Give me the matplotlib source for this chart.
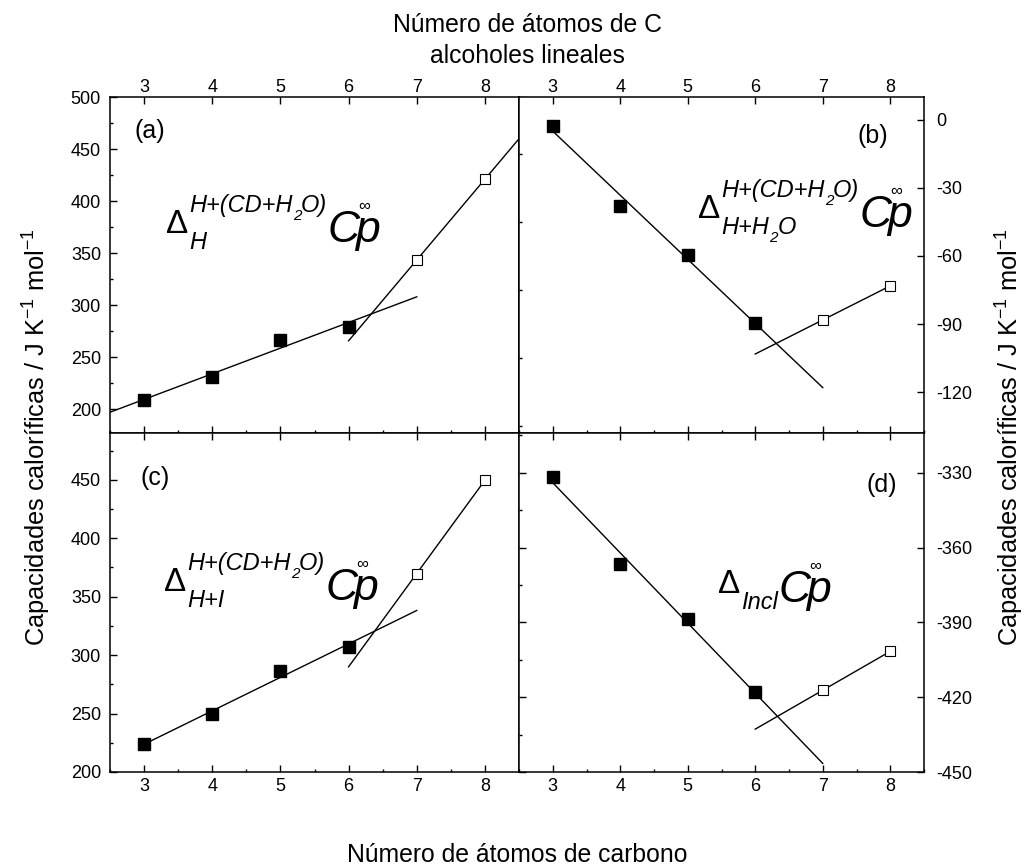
import numpy as np
import matplotlib
matplotlib.use("Agg")
import matplotlib.pyplot as plt
from matplotlib.ticker import MultipleLocator
from matplotlib.transforms import IdentityTransform

plt.rcParams["font.family"] = "Liberation Sans"
plt.rcParams["mathtext.fontset"] = "custom"
plt.rcParams["mathtext.rm"] = "Liberation Sans"
plt.rcParams["mathtext.it"] = "Liberation Sans:italic"
plt.rcParams["axes.unicode_minus"] = False
plt.rcParams["font.size"] = 13

# numero de carbonos del alcohol; los cuatro primeros (rellenos) y los dos ultimos (abiertos)
n_carbon = np.array([3, 4, 5, 6, 7, 8])
cp_a = np.array([208.7, 231.0, 266.3, 279.1, 343.3, 421.0])
cp_b = np.array([-2.6, -37.9, -59.6, -89.5, -88.2, -73.2])
cp_c = np.array([223.7, 249.7, 286.3, 306.9, 369.8, 449.6])
cp_d = np.array([-331.6, -366.5, -388.5, -418.1, -417.2, -401.6])
n_fill = 4

W, H = 1030, 868
fig = plt.figure(figsize=(W / 100, H / 100), dpi=100)

xl, xm, xr = 110 / W, 519 / W, 924 / W
yb, ym, yt = 1 - 772 / H, 1 - 433 / H, 1 - 97 / H
ax_a = fig.add_axes([xl, ym, xm - xl, yt - ym])
ax_b = fig.add_axes([xm, ym, xr - xm, yt - ym])
ax_c = fig.add_axes([xl, yb, xm - xl, ym - yb])
ax_d = fig.add_axes([xm, yb, xr - xm, ym - yb])


def panel(ax, y, fill_span, open_span):
    xf, yf = n_carbon[:n_fill], y[:n_fill]
    xo, yo = n_carbon[n_fill:], y[n_fill:]
    pf = np.polyfit(xf, yf, 1)
    po = np.polyfit(xo, yo, 1)
    xs = np.array(fill_span)
    ax.plot(xs, np.polyval(pf, xs), color="k", lw=1.0)
    xs = np.array(open_span)
    ax.plot(xs, np.polyval(po, xs), color="k", lw=1.0)
    ax.plot(xf, yf, "s", color="k", ms=8, zorder=3)
    ax.plot(xo, yo, "s", mfc="white", mec="k", mew=0.8, ms=7.5, zorder=3)
    ax.set_xlim(2.5, 8.5)
    ax.xaxis.set_major_locator(MultipleLocator(1))
    ax.xaxis.set_minor_locator(MultipleLocator(0.5))
    ax.tick_params(which="both", direction="in", width=1.0)
    ax.tick_params(which="major", length=5)
    ax.tick_params(which="minor", length=2.5)
    for s in ax.spines.values():
        s.set_linewidth(1.1)


panel(ax_a, cp_a, (2.5, 7), (6, 8.5))
panel(ax_b, cp_b, (3, 7), (6, 8))
panel(ax_c, cp_c, (3, 7), (6, 8))
panel(ax_d, cp_d, (3, 7), (6, 8))

ax_a.set_ylim(177, 500)
ax_a.yaxis.set_major_locator(MultipleLocator(50))
ax_a.yaxis.set_minor_locator(MultipleLocator(25))
ax_a.tick_params(axis="x", top=True, bottom=True, labeltop=True, labelbottom=False, pad=0.5)
ax_a.tick_params(axis="y", left=True, right=False, labelleft=True, pad=6.5)
sec = ax_a.secondary_yaxis("right")
sec.yaxis.set_major_locator(MultipleLocator(50))
sec.yaxis.set_minor_locator(MultipleLocator(25))
sec.tick_params(which="both", direction="out", width=1.0, labelright=False)
sec.tick_params(which="major", length=5)
sec.tick_params(which="minor", length=2.5)
sec.spines["right"].set_linewidth(1.1)

ax_b.set_ylim(-138, 10)
ax_b.yaxis.set_major_locator(MultipleLocator(30))
ax_b.yaxis.set_minor_locator(MultipleLocator(15))
ax_b.tick_params(axis="x", top=True, bottom=True, labeltop=True, labelbottom=False, pad=0.5)
ax_b.tick_params(axis="y", left=False, right=True, labelleft=False, labelright=True, pad=9)

ax_c.set_ylim(200, 490)
ax_c.yaxis.set_major_locator(MultipleLocator(50))
ax_c.yaxis.set_minor_locator(MultipleLocator(25))
ax_c.tick_params(axis="x", top=True, bottom=True, labeltop=False, labelbottom=True, pad=4.5)
ax_c.tick_params(axis="y", left=True, right=False, labelleft=True, pad=6.5)

ax_d.set_ylim(-450, -314)
ax_d.yaxis.set_major_locator(MultipleLocator(30))
ax_d.yaxis.set_minor_locator(MultipleLocator(15))
ax_d.tick_params(axis="x", top=True, bottom=True, labeltop=False, labelbottom=True, pad=4.5)
ax_d.tick_params(axis="y", left=True, right=True, labelleft=False, labelright=True, pad=9)


def ptext(x, y, s, **kw):
    return fig.text(x, H - y, s, transform=IdentityTransform(), **kw)


# titulos de los ejes
ptext(527, 32, "Número de átomos de C", ha="center", va="baseline", fontsize=17.8)
ptext(527, 63, "alcoholes lineales", ha="center", va="baseline", fontsize=17.8)
ptext(517, 862, "Número de átomos de carbono", ha="center", va="baseline", fontsize=17.8)
ylab = "Capacidades caloríficas / J K$^{-1}$ mol$^{-1}$"
ptext(37, 437, ylab, rotation=90, ha="center", va="center", fontsize=18.3)
ptext(1010, 437, ylab, rotation=90, ha="center", va="center", fontsize=18.3)

# etiquetas de panel
ptext(135, 138, "(a)", ha="left", va="baseline", fontsize=18)
ptext(888, 143, "(b)", ha="right", va="baseline", fontsize=18)
ptext(140, 485, "(c)", ha="left", va="baseline", fontsize=18)
ptext(897, 492, "(d)", ha="right", va="baseline", fontsize=18)

renderer = fig.canvas.get_renderer()


def run(x, y, pieces):
    for s, size, dy in pieces:
        t = ptext(x, y + dy, s, fontsize=size, style="italic", ha="left", va="baseline")
        x = t.get_window_extent(renderer).x1
    return x


def formula(x, base, sup, sub):
    d = ptext(x, base, "Δ", fontsize=24, ha="left", va="baseline")
    xs = d.get_window_extent(renderer).x1 + 1
    x_end = xs
    if sup:
        x_end = max(x_end, run(xs, base - 21, sup))
    if sub:
        x_end = max(x_end, run(xs, base + 16, sub))
    c = ptext(x_end, base + 9, "C", fontsize=32, style="italic", ha="left", va="baseline")
    xp = c.get_window_extent(renderer).x1 - 4
    ptext(xp, base + 9, "p", fontsize=32, style="italic", ha="left", va="baseline")
    ptext(xp + 3, base - 22, "∞", fontsize=12, ha="left", va="baseline")


sup_cd = [("H+(CD+H", 17, 0), ("2", 11, 8), ("O)", 17, 0)]
formula(166, 233, sup_cd, [("H", 17, 0)])
formula(698, 218, sup_cd, [("H+H", 17, 0), ("2", 11, 8), ("O", 17, 0)])
formula(164, 591, sup_cd, [("H+I", 17, 0)])
formula(718, 593, None, [("Incl", 17, 0)])

fig.savefig("out.png", dpi=100)
